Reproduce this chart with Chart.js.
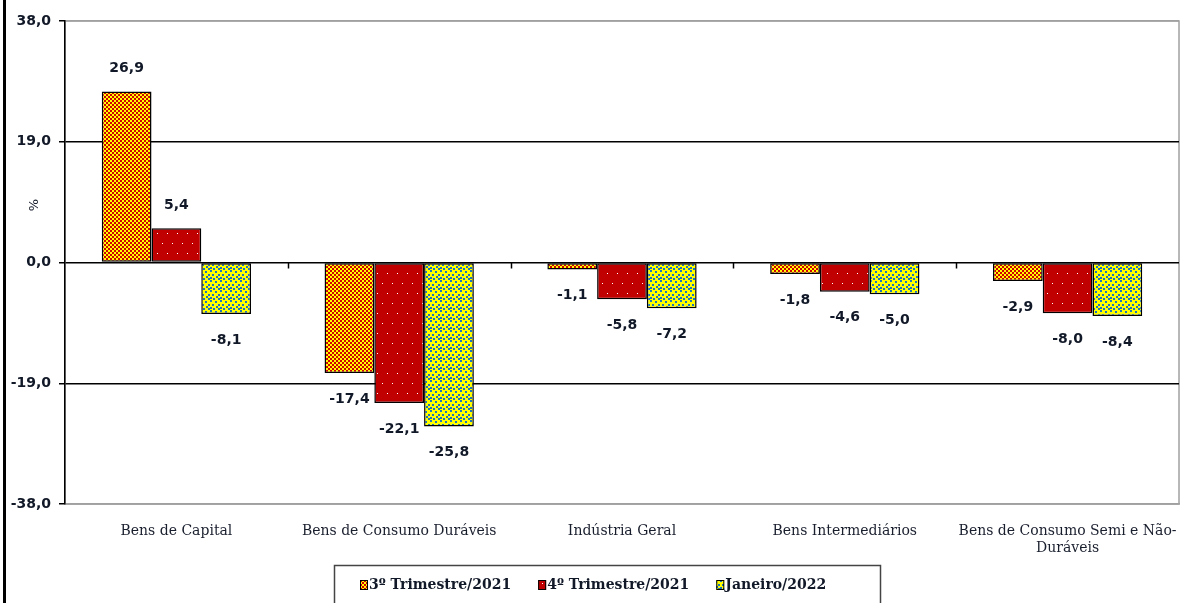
<!DOCTYPE html>
<html>
<head>
<meta charset="utf-8">
<script src="https://cdn.jsdelivr.net/npm/chart.js@4.4.1/dist/chart.umd.min.js"></script>
<style>
  body { margin: 0; background: #fff; }
  #wrap { width: 1181px; height: 603px; }
</style>
</head>
<body>
<div id="wrap"><canvas id="chart" width="1181" height="603"></canvas></div>
<script>
// ─────────────────────────────
// DATA
// ─────────────────────────────
const categories = [
    "Bens de Capital",
    "Bens de Consumo Duráveis",
    "Indústria Geral",
    "Bens Intermediários",
    ["Bens de Consumo Semi e Não-", "Duráveis"]
];
const seriesNames = ["3º Trimestre/2021", "4º Trimestre/2021", "Janeiro/2022"];
const tri3 = [26.9, -17.4, -1.1, -1.8, -2.9];
const tri4 = [5.4, -22.1, -5.8, -4.6, -8.0];
const jan22 = [-8.1, -25.8, -7.2, -5.0, -8.4];
const yMin = -38, yMax = 38, yStep = 19;

const fmt = v => v.toFixed(1).replace(".", ",");

// ─────────────────────────────
// PATTERNS
// ─────────────────────────────
function tile(w, h, bg, fg, dots, s) {
    const c = document.createElement("canvas");
    c.width = w; c.height = h;
    const g = c.getContext("2d");
    g.fillStyle = bg;
    g.fillRect(0, 0, w, h);
    g.fillStyle = fg;
    dots.forEach(d => g.fillRect(d[0], d[1], s, s));
    return g.createPattern(c, "repeat");
}

const ctx = document.getElementById("chart").getContext("2d");
const patChecker = tile(4, 4, "#ffff00", "#d00000", [[0, 0], [2, 2]], 2);
const patRed = tile(10, 20, "#c00000", "#ffffff", [[2, 3], [7, 13]], 1);
const patYellow = tile(10, 10, "#ffff00", "#1c75bc",
    [[0, 0], [5, 1], [8, 4], [2, 4], [6, 6], [0, 7], [3, 8], [8, 8]], 2);
const patterns = [patChecker, patRed, patYellow];

// ─────────────────────────────
// PLUGINS
// ─────────────────────────────
const decor = {
    id: "decor",
    beforeDraw(chart) {
        const g = chart.ctx, a = chart.chartArea;
        g.save();
        g.fillStyle = "#000";
        g.fillRect(3, 0, 3, chart.height);
        g.strokeStyle = "#a0a0a0";
        g.lineWidth = 1.5;
        g.strokeRect(a.left, a.top, a.right - a.left, a.bottom - a.top);
        g.restore();
    },
    afterDatasetsDraw(chart) {
        const g = chart.ctx;
        const x = chart.scales.x, y = chart.scales.y;
        const y0 = y.getPixelForValue(0);
        g.save();
        // ticks on the zero line between categories
        g.strokeStyle = "#000";
        g.lineWidth = 1.5;
        const half = (x.getPixelForValue(1) - x.getPixelForValue(0)) / 2;
        for (let i = 1; i < categories.length; i++) {
            const px = Math.round(x.getPixelForValue(i) - half) + 0.5;
            g.beginPath();
            g.moveTo(px, y0);
            g.lineTo(px, y0 + 6);
            g.stroke();
        }
        // value labels
        g.font = "bold 14px 'DejaVu Sans'";
        g.fillStyle = "#111827";
        g.textAlign = "center";
        g.textBaseline = "middle";
        chart.data.datasets.forEach((ds, di) => {
            chart.getDatasetMeta(di).data.forEach((bar, i) => {
                const v = ds.data[i];
                const ty = v >= 0 ? bar.y - 23 : bar.y + 26;
                g.fillText(fmt(v), bar.x, ty);
            });
        });
        // axis title
        g.font = "13px 'DejaVu Sans'";
        g.translate(35, 205);
        g.rotate(-Math.PI / 2);
        g.fillText("%", 0, 0);
        g.restore();
    },
    afterDraw(chart) {
        const g = chart.ctx;
        g.save();
        g.strokeStyle = "#444";
        g.lineWidth = 1.5;
        g.strokeRect(334.5, 565.5, 546, 60);
        g.font = "bold 14px 'DejaVu Serif'";
        g.textBaseline = "middle";
        let px = 360;
        const py = 585;
        chart.data.datasets.forEach((ds, i) => {
            g.fillStyle = patterns[i];
            g.fillRect(px, py - 5, 8, 10);
            g.strokeStyle = "#000";
            g.lineWidth = 1;
            g.strokeRect(px + 0.5, py - 4.5, 7, 9);
            g.fillStyle = "#111827";
            g.fillText(ds.label, px + 9, py);
            px += 9 + g.measureText(ds.label).width + 27;
        });
        g.restore();
    }
};

// ─────────────────────────────
// CHART
// ─────────────────────────────
new Chart(ctx, {
    type: "bar",
    data: {
        labels: categories,
        datasets: [tri3, tri4, jan22].map((d, i) => ({
            label: seriesNames[i],
            data: d,
            backgroundColor: patterns[i],
            borderColor: "#000",
            borderWidth: 1.5,
            borderSkipped: false,
            categoryPercentage: 0.67,
            barPercentage: 1.0
        }))
    },
    options: {
        responsive: false,
        animation: false,
        devicePixelRatio: 1,
        layout: { padding: { left: 0, right: 2, top: 21, bottom: 0 } },
        plugins: {
            legend: { display: false },
            tooltip: { enabled: false }
        },
        scales: {
            x: {
                grid: { display: false },
                border: { color: "#a0a0a0", width: 1.5 },
                ticks: {
                    color: "#1a1f2e",
                    font: { family: "'DejaVu Serif'", size: 14 },
                    padding: 11,
                    maxRotation: 0,
                    autoSkip: false
                },
                afterFit: s => {
                    s.height = 99;
                    s.paddingLeft = 0;
                    s.paddingRight = 0;
                }
            },
            y: {
                min: yMin,
                max: yMax,
                ticks: {
                    stepSize: yStep,
                    color: "#111827",
                    font: { family: "'DejaVu Sans'", size: 14, weight: "bold" },
                    padding: 8,
                    callback: v => fmt(v)
                },
                grid: {
                    color: c => (Math.abs(c.tick.value) === yMax ? "#a0a0a0" : "#000"),
                    lineWidth: 1.5,
                    tickLength: 6,
                    tickColor: "#000"
                },
                border: { color: "#000", width: 1.5 },
                afterFit: s => { s.width = 65; }
            }
        }
    },
    plugins: [decor]
});
</script>
</body>
</html>
